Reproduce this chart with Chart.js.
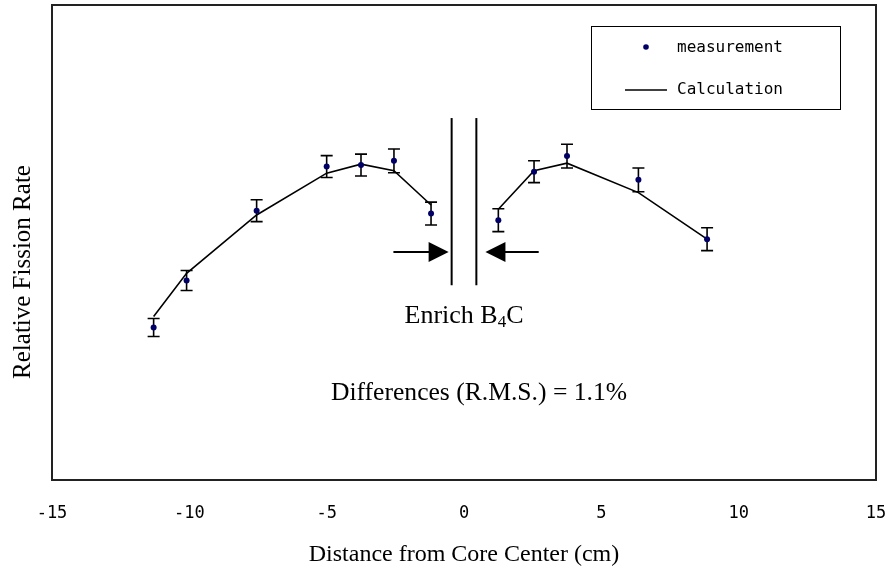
<!DOCTYPE html>
<html>
<head>
<meta charset="utf-8">
<script src="https://cdn.jsdelivr.net/npm/chart.js@4/dist/chart.umd.min.js"></script>
<style>
  body { margin: 0; background: #fff; }
</style>
</head>
<body>
<canvas id="chart" width="893" height="571"></canvas>
<script>
// measured points (x in cm, y in relative units), error half-widths
var measX = [-11.3, -10.1, -7.55, -5.0, -3.75, -2.55, -1.2, 1.25, 2.55, 3.75, 6.35, 8.85]
var measY = [32.1, 42.0, 56.7, 66.0, 66.3, 67.2, 56.1, 54.7, 64.9, 68.2, 63.2, 50.7]
var measErr = [1.9, 2.1, 2.3, 2.3, 2.3, 2.5, 2.4, 2.4, 2.3, 2.5, 2.5, 2.4]
// calculation, same x positions, broken at the absorber
var calcY = [34.4, 43.5, 55.8, 64.6, 66.5, 65.1, 57.9, 57.0, 65.1, 66.7, 60.5, 50.7]
var xTicks = [-15, -10, -5, 0, 5, 10, 15]
// absorber walls and arrows
var wallX = [-0.45, 0.45]
var wallY = [41.0, 76.2]
var arrowY = 48
var arrowLeft = [-2.57, -0.56]
var arrowRight = [2.72, 0.78]

var mono = 'DejaVu Sans Mono'
var serif = 'Liberation Serif'

var measData = []
for (let i = 0; i < measX.length; i++) measData.push({x: measX[i], y: measY[i]})

var calcData = []
for (let i = 0; i < measX.length; i++) {
  calcData.push({x: measX[i], y: calcY[i]})
  if (i < measX.length - 1 && measX[i] < 0 && measX[i + 1] > 0) calcData.push({x: 0, y: null})
}

function wall(x) {
  return {
    type: 'line',
    data: [{x: x, y: wallY[0]}, {x: x, y: wallY[1]}],
    borderColor: '#000', borderWidth: 2, pointRadius: 0
  }
}

var extras = {
  id: 'extras',
  beforeDatasetsDraw(chart) {
    var c = chart.ctx, xs = chart.scales.x, ys = chart.scales.y
    c.save()
    c.strokeStyle = '#000'
    c.lineWidth = 1.6
    for (let i = 0; i < measX.length; i++) {
      var px = xs.getPixelForValue(measX[i])
      var top = ys.getPixelForValue(measY[i] + measErr[i])
      var bot = ys.getPixelForValue(measY[i] - measErr[i])
      c.beginPath()
      c.moveTo(px, top); c.lineTo(px, bot)
      c.moveTo(px - 6, top); c.lineTo(px + 6, top)
      c.moveTo(px - 6, bot); c.lineTo(px + 6, bot)
      c.stroke()
    }
    c.restore()
  },
  afterDraw(chart) {
    var c = chart.ctx, xs = chart.scales.x, ys = chart.scales.y, a = chart.chartArea
    c.save()
    // plot frame
    c.strokeStyle = '#222'
    c.lineWidth = 2
    c.strokeRect(a.left, a.top, a.right - a.left, a.bottom - a.top)

    // y axis title, sits a bit below the middle like the original
    c.fillStyle = '#000'
    c.font = '25px "' + serif + '"'
    c.textAlign = 'center'
    c.textBaseline = 'middle'
    c.translate(23, 272)
    c.rotate(-Math.PI / 2)
    c.fillText('Relative Fission Rate', 0, 0)
    c.setTransform(1, 0, 0, 1, 0, 0)

    // arrows
    function arrow(from, to) {
      var x0 = xs.getPixelForValue(from), x1 = xs.getPixelForValue(to)
      var y = ys.getPixelForValue(arrowY)
      var dir = x1 > x0 ? 1 : -1
      c.strokeStyle = '#000'
      c.lineWidth = 2
      c.beginPath()
      c.moveTo(x0, y); c.lineTo(x1 - dir * 18, y)
      c.stroke()
      c.fillStyle = '#000'
      c.beginPath()
      c.moveTo(x1, y)
      c.lineTo(x1 - dir * 20, y - 10)
      c.lineTo(x1 - dir * 20, y + 10)
      c.closePath()
      c.fill()
    }
    arrow(arrowLeft[0], arrowLeft[1])
    arrow(arrowRight[0], arrowRight[1])

    // Enrich B4C label
    c.fillStyle = '#000'
    c.textBaseline = 'alphabetic'
    var big = '26px "' + serif + '"', small = '17px "' + serif + '"'
    c.font = big
    var w1 = c.measureText('Enrich B').width
    var w3 = c.measureText('C').width
    c.font = small
    var w2 = c.measureText('4').width
    var cx = xs.getPixelForValue(0)
    var bx = cx - (w1 + w2 + w3) / 2, by = 323
    c.textAlign = 'left'
    c.font = big
    c.fillText('Enrich B', bx, by)
    c.font = small
    c.fillText('4', bx + w1, by + 4)
    c.font = big
    c.fillText('C', bx + w1 + w2, by)

    c.textAlign = 'center'
    c.font = '25.6px "' + serif + '"'
    c.fillText('Differences (R.M.S.) = 1.1%', 479, 400)

    // legend
    c.strokeStyle = '#000'
    c.lineWidth = 1
    c.strokeRect(591.5, 26.5, 249, 83)
    c.fillStyle = '#000066'
    c.beginPath()
    c.arc(646, 47, 2.8, 0, Math.PI * 2)
    c.fill()
    c.lineWidth = 1.5
    c.beginPath()
    c.moveTo(625, 90); c.lineTo(667, 90)
    c.stroke()
    c.fillStyle = '#000'
    c.font = '16px "' + mono + '"'
    c.textAlign = 'left'
    c.textBaseline = 'middle'
    c.fillText('measurement', 677, 48)
    c.fillText('Calculation', 677, 90)
    c.restore()
  }
}

new Chart(document.getElementById('chart').getContext('2d'), {
  data: {
    datasets: [
      {
        type: 'scatter', label: 'measurement', data: measData,
        pointRadius: 3, pointBackgroundColor: '#000066', pointBorderColor: '#000066', pointBorderWidth: 0
      },
      {
        type: 'line', label: 'Calculation', data: calcData,
        borderColor: '#000', borderWidth: 1.6, pointRadius: 0, tension: 0, spanGaps: false
      },
      wall(wallX[0]),
      wall(wallX[1])
    ]
  },
  options: {
    responsive: false,
    animation: false,
    layout: {padding: {left: 0, top: 5, right: 17, bottom: 0}},
    plugins: {legend: {display: false}, tooltip: {enabled: false}},
    scales: {
      x: {
        type: 'linear', min: -15, max: 15,
        afterBuildTicks: s => { s.ticks = xTicks.map(v => ({value: v})) },
        ticks: {color: '#000', font: {family: mono, size: 17}, padding: 23, maxRotation: 0},
        grid: {display: false, drawTicks: false},
        border: {display: false},
        title: {display: true, text: 'Distance from Core Center (cm)', color: '#000',
                font: {family: serif, size: 24}, padding: {top: 0, bottom: 2}},
        afterFit: s => { s.height = 91; s.paddingLeft = 0; s.paddingRight = 0 }
      },
      y: {
        min: 0, max: 100,
        ticks: {display: false},
        grid: {display: false, drawTicks: false},
        border: {display: false},
        title: {display: false},
        afterFit: s => { s.width = 52 }
      }
    }
  },
  plugins: [extras]
})
</script>
</body>
</html>
